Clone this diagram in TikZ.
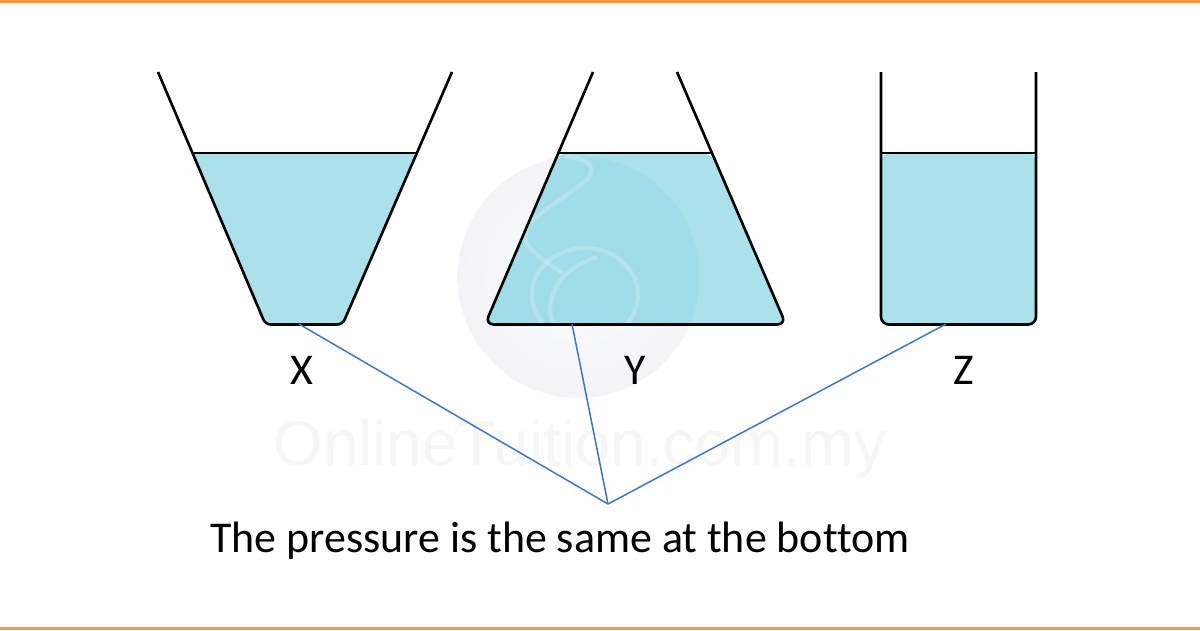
\documentclass[tikz,border=0pt]{standalone}
\usepackage{fontspec}
\setmainfont[Ligatures=NoCommon]{Carlito}
\newfontfamily\markfont{Liberation Sans}
\usetikzlibrary{calc}
\definecolor{barorange}{HTML}{F79646}
\definecolor{waterblue}{HTML}{ABE1EB}
\definecolor{waterdeep}{HTML}{A1DDE9}
\definecolor{linkblue}{HTML}{3F78C0}
\definecolor{haloedge}{HTML}{F3F3F8}
\definecolor{haloinner}{HTML}{FBFDFF}
\definecolor{marktext}{HTML}{F6F6F6}
\tikzset{
	wall/.style={line width=1.5pt, line join=round},
	level/.style={line width=1.4pt},
	link/.style={linkblue, line width=0.85pt},
	caption/.style={font=\fontsize{25}{30}\selectfont, inner sep=0pt},
	swirl/.style={white, opacity=0.2, line width=2.4pt}
}

\begin{document}
\begin{tikzpicture}[x=0.02cm, y=-0.02cm]
			%%%%% FRAME %%%%%
			\useasboundingbox (0, 0) rectangle (1200, 630);
			\fill[barorange] (0, 0) rectangle (1200, 3);
			\fill[barorange] (0, 627) rectangle (1200, 630);
			
			%%%%% WATERMARK %%%%%
			\shade[inner color=haloinner, outer color=haloedge] (578.5, 277) circle (121);
			\node[font=\markfont\fontsize{36.2}{42}\selectfont, text=marktext, inner sep=0pt] (mark) at (580, 449) {OnlineTuition.com.my};
			
			%%%%% WATER %%%%%
			\fill[waterblue, rounded corners=3pt] (193, 153) -- (265.5, 324.5) -- (342.5, 324.5) -- (416, 153) -- cycle;
			\fill[waterblue, rounded corners=5pt] (559, 153) -- (485, 324.5) -- (786, 324.5) -- (711, 153) -- cycle;
			\fill[waterblue, rounded corners=4.5pt] (881, 153) -- (881, 324.5) -- (1036, 324.5) -- (1036, 153) -- cycle;
			
			\begin{scope}
				\clip[rounded corners=5pt] (559, 153) -- (485, 324.5) -- (786, 324.5) -- (711, 153) -- cycle;
				\fill[waterdeep] (578.5, 277) circle (121);
			\end{scope}
			\draw[swirl] (565, 157) .. controls (590, 157) and (600, 170) .. (583, 183) .. controls (560, 200) and (535, 215) .. (527, 228) .. controls (518, 245) and (540, 258) .. (563, 273);
			\draw[swirl] (585, 295) ellipse (53 and 47);
			\draw[swirl] (597, 257) .. controls (570, 265) and (550, 285) .. (550, 310) .. controls (550, 325) and (565, 338) .. (585, 342);
			
			%%%%% VESSELS %%%%%
			\draw[wall, rounded corners=3pt] (158, 72) -- (265.5, 324.5) -- (342.5, 324.5) -- (452, 72);
			\draw[level] (193, 153) -- (416, 153);
			
			\draw[wall, rounded corners=5pt] (593, 72) -- (485, 324.5) -- (786, 324.5) -- (677, 72);
			\draw[level] (559, 153) -- (711, 153);
			
			\draw[wall, rounded corners=4.5pt] (881, 72) -- (881, 324.5) -- (1036, 324.5) -- (1036, 72);
			\draw[level] (881, 153) -- (1036, 153);
			
			%%%%% LABELS %%%%%
			\node[caption] (labelx) at (302, 370) {X};
			\node[caption] (labely) at (635, 370) {Y};
			\node[caption] (labelz) at (964, 370) {Z};
			\node[caption] (note) at (560, 540.5) {The pressure is the same at the bottom};
			
			%%%%% LINKS %%%%%
			\coordinate (basex) at (299, 324);
			\coordinate (basey) at (572, 324);
			\coordinate (basez) at (946, 324);
			\coordinate (meet) at (608, 504);
			\draw[link] (basex) -- (meet);
			\draw[link] (basey) -- (meet);
			\draw[link] (basez) -- (meet);
			%%%%% END %%%%%
		\end{tikzpicture}
\end{document}
